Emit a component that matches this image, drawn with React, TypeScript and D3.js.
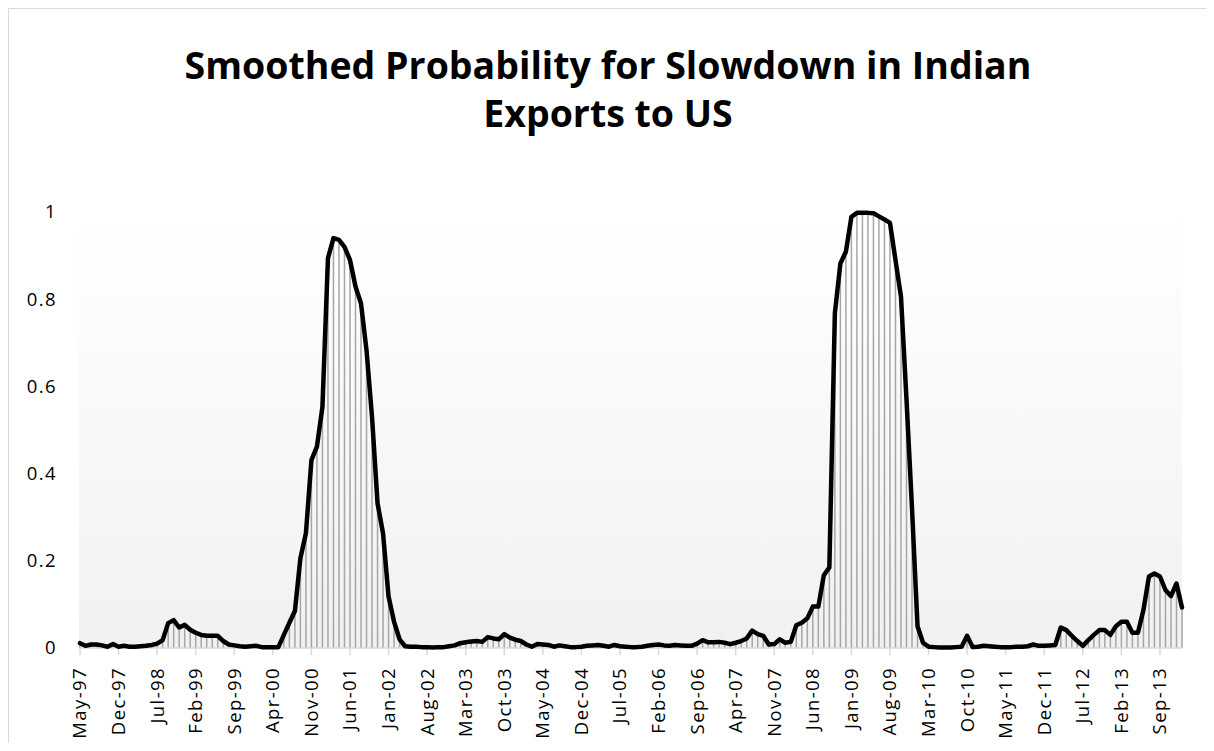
import React from "react";
import * as d3 from "d3";

// Monthly categories May-97 .. Jan-14
const startMonth = new Date(1997, 4, 1);
const endMonth = new Date(2014, 0, 1);
const months: Date[] = d3.timeMonth.range(startMonth, d3.timeMonth.offset(endMonth, 1));

const probability: number[] = [
  0.011, 0.005, 0.008, 0.008, 0.006, 0.003, 0.009, 0.003, 0.005, 0.003,
  0.003, 0.004, 0.005, 0.007, 0.01, 0.018, 0.057, 0.064, 0.047, 0.053,
  0.042, 0.035, 0.03, 0.028, 0.028, 0.028, 0.016, 0.008, 0.006, 0.004,
  0.003, 0.004, 0.005, 0.002, 0.002, 0.002, 0.002, 0.03, 0.058, 0.085,
  0.206, 0.263, 0.431, 0.462, 0.553, 0.894, 0.94, 0.936, 0.92, 0.89,
  0.829, 0.79, 0.683, 0.53, 0.332, 0.263, 0.118, 0.06, 0.02, 0.004,
  0.003, 0.003, 0.002, 0.002, 0.001, 0.002, 0.002, 0.004, 0.006, 0.011,
  0.013, 0.015, 0.016, 0.014, 0.025, 0.022, 0.02, 0.032, 0.024, 0.019,
  0.016, 0.008, 0.003, 0.009, 0.008, 0.007, 0.003, 0.006, 0.004, 0.002,
  0.002, 0.003, 0.005, 0.006, 0.007, 0.005, 0.003, 0.007, 0.004, 0.003,
  0.002, 0.002, 0.003, 0.005, 0.007, 0.008, 0.006, 0.005, 0.007, 0.006,
  0.005, 0.005, 0.01, 0.018, 0.013, 0.013, 0.014, 0.012, 0.009, 0.012,
  0.016, 0.022, 0.04, 0.032, 0.028, 0.008, 0.009, 0.02, 0.012, 0.014,
  0.052, 0.058, 0.068, 0.095, 0.095, 0.167, 0.185, 0.768, 0.882, 0.909,
  0.989, 0.998, 0.998, 0.998, 0.997, 0.99, 0.983, 0.975, 0.89, 0.806,
  0.57, 0.32, 0.05, 0.012, 0.003, 0.002, 0.001, 0.001, 0.001, 0.002,
  0.003, 0.028, 0.002, 0.003, 0.005, 0.004, 0.003, 0.002, 0.002, 0.002,
  0.003, 0.003, 0.004, 0.008, 0.005, 0.005, 0.006, 0.007, 0.047, 0.041,
  0.028, 0.016, 0.005, 0.018, 0.03, 0.041, 0.041, 0.03, 0.05, 0.06,
  0.06, 0.035, 0.035, 0.087, 0.164, 0.171, 0.164, 0.133, 0.119, 0.148,
  0.093,
];

const xTickLabels: string[] = [
  "May-97", "Dec-97", "Jul-98", "Feb-99", "Sep-99", "Apr-00", "Nov-00", "Jun-01",
  "Jan-02", "Aug-02", "Mar-03", "Oct-03", "May-04", "Dec-04", "Jul-05", "Feb-06",
  "Sep-06", "Apr-07", "Nov-07", "Jun-08", "Jan-09", "Aug-09", "Mar-10", "Oct-10",
  "May-11", "Dec-11", "Jul-12", "Feb-13", "Sep-13",
];
const yTicks: number[] = [0, 0.2, 0.4, 0.6, 0.8, 1];
const titleLines: string[] = ["Smoothed Probability for Slowdown in Indian", "Exports to US"];

const W = 1214;
const H = 751;
const FONT = "'Open Sans', 'Noto Sans', sans-serif";

export default function App() {
  const fmt = d3.timeFormat("%b-%y");
  const cats = months.map((m) => fmt(m));
  const x = d3.scalePoint<string>().domain(cats).range([80, 1182]).padding(0);
  const y = d3.scaleLinear().domain([0, 1]).range([648, 212]);
  const data = cats.map((c, i) => ({ c, v: probability[i] }));
  const line = d3
    .line<{ c: string; v: number }>()
    .x((d) => x(d.c) as number)
    .y((d) => y(d.v));

  return (
    <div style={{ margin: "-8px" }}>
      <svg width={W} height={H} style={{ display: "block" }}>
        <defs>
          <linearGradient id="bg" x1="0" y1="0" x2="0" y2="1">
            <stop offset="0" stopColor="#ffffff" />
            <stop offset="1" stopColor="#f1f1f1" />
          </linearGradient>
        </defs>
        <rect x={0} y={0} width={W} height={H} fill="#ffffff" />
        <rect x={8.5} y={8.5} width={1198} height={735} fill="#ffffff" stroke="#d9d9d9" strokeWidth={1} />
        <text
          x={608}
          y={79}
          textAnchor="middle"
          fontFamily={FONT}
          fontWeight={700}
          fontSize={37.5}
          fill="#000"
        >
          {titleLines.map((t, i) => (
            <tspan key={t} x={608} dy={i === 0 ? 0 : 48}>
              {t}
            </tspan>
          ))}
        </text>
        <rect x={79} y={y(1)} width={1182 - 79} height={y(0) - y(1)} fill="url(#bg)" />
        {data.map((d) => (
          <rect
            key={d.c}
            x={(x(d.c) as number) - 0.75}
            y={y(d.v)}
            width={1.5}
            height={y(0) - y(d.v)}
            fill="#a6a6a6"
          />
        ))}
        <line x1={80} x2={1182} y1={y(0)} y2={y(0)} stroke="#d9d9d9" strokeWidth={1.5} />
        {xTickLabels.map((lab) => {
          const px = x(lab) as number;
          return (
            <g key={lab}>
              <line x1={px} x2={px} y1={y(0)} y2={y(0) + 7} stroke="#d9d9d9" strokeWidth={1.5} />
              <text
                transform={`translate(${px},${y(0) + 19}) rotate(-90)`}
                textAnchor="end"
                dy="0.35em"
                fontFamily={FONT}
                fontSize={18.5}
                letterSpacing={1.4}
                fill="#000"
              >
                {lab}
              </text>
            </g>
          );
        })}
        {yTicks.map((t) => (
          <text
            key={t}
            x={57}
            y={y(t)}
            dy="0.35em"
            textAnchor="end"
            fontFamily={FONT}
            fontSize={18.5}
            letterSpacing={1.4}
            fill="#000"
          >
            {d3.format("~g")(t)}
          </text>
        ))}
        <path
          d={line(data) || ""}
          fill="none"
          stroke="#000"
          strokeWidth={4.5}
          strokeLinejoin="round"
          strokeLinecap="round"
        />
      </svg>
    </div>
  );
}
